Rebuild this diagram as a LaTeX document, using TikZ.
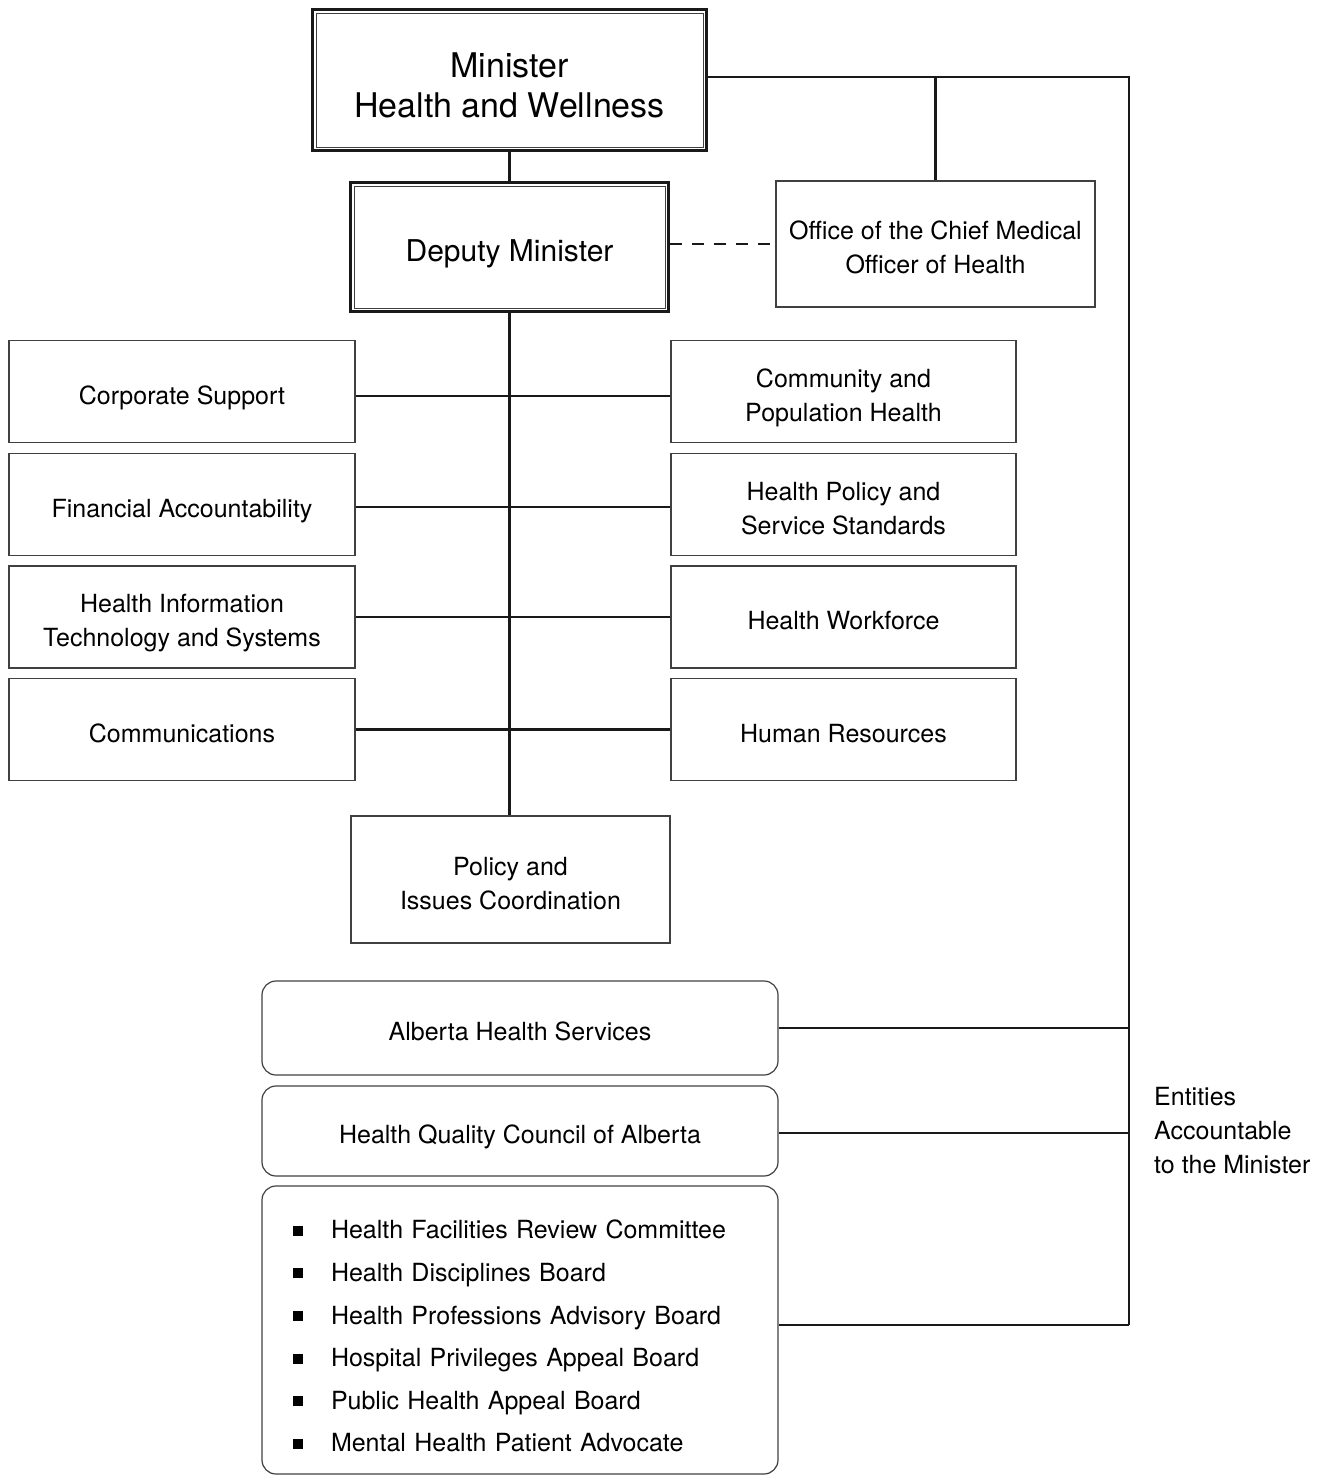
\documentclass[tikz,border=0pt]{standalone}
\usepackage{fontspec}
\setmainfont{TeX Gyre Heros}
\newcommand{\fsbody}{\fontsize{25}{34}\selectfont}
\newcommand{\fsmin}{\fontsize{34}{40}\selectfont}
\newcommand{\fsdep}{\fontsize{30}{36}\selectfont}
\newcommand{\fslist}{\fontsize{25}{42.6}\selectfont}
\newcommand{\sqb}{\makebox[38pt][l]{\raisebox{3pt}{\rule{10pt}{10pt}}}}
\newcommand{\tps}[1]{\rule{0pt}{#1}}
\newcommand{\bts}[1]{\rule[-#1]{0pt}{0pt}}
\begin{document}
\begin{tikzpicture}[x=1pt,y=-1pt,
  box/.style={draw=black!75, line width=1.2pt, inner sep=0pt, align=center, font=\fsbody},
  rbox/.style={box, rounded corners=14pt},
  conn/.style={line width=2.4pt, draw=black!90},
  dashline/.style={conn, dash pattern=on 12pt off 10pt}
]
\useasboundingbox (0,0) rectangle (1331,1476);
% top boxes
\node[draw=black!90, line width=3pt, inner sep=0pt, align=center, font=\fsmin,
      minimum width=394pt, minimum height=141pt] (min) at (509.5,80) {\tps{42.5pt}Minister\\Health and Wellness\bts{8pt}};
\draw[line width=1pt, black!75] ([shift={(5,5)}]min.north west) rectangle ([shift={(-5,-5)}]min.south east);
\node[draw=black!90, line width=3pt, inner sep=0pt, align=center, font=\fsdep,
      minimum width=318pt, minimum height=129pt] (dep) at (509.5,247) {\tps{36.6pt}Deputy Minister\bts{7pt}};
\draw[line width=1pt, black!75] ([shift={(5,5)}]dep.north west) rectangle ([shift={(-5,-5)}]dep.south east);
\node[box, minimum width=319pt, minimum height=126pt] (off) at (935.5,244) {\tps{31pt}Office of the Chief Medical\\Officer of Health\bts{6pt}};
% left column
\node[box, minimum width=346pt, minimum height=102pt] (cs) at (182,391.5) {\tps{31pt}Corporate Support\bts{6pt}};
\node[box, minimum width=346pt, minimum height=102pt] (fa) at (182,504.5) {\tps{31pt}Financial Accountability\bts{6pt}};
\node[box, minimum width=346pt, minimum height=102pt] (hit) at (182,617) {\tps{31pt}Health Information\\Technology and Systems\bts{6pt}};
\node[box, minimum width=346pt, minimum height=102pt] (com) at (182,729.5) {\tps{31pt}Communications\bts{6pt}};
% right column
\node[box, minimum width=345pt, minimum height=102pt] (cph) at (843.5,391.5) {\tps{31pt}Community and\\Population Health\bts{6pt}};
\node[box, minimum width=345pt, minimum height=102pt] (hps) at (843.5,504.5) {\tps{31pt}Health Policy and\\Service Standards\bts{6pt}};
\node[box, minimum width=345pt, minimum height=102pt] (hw) at (843.5,617) {\tps{31pt}Health Workforce\bts{6pt}};
\node[box, minimum width=345pt, minimum height=102pt] (hr) at (843.5,729.5) {\tps{31pt}Human Resources\bts{6pt}};
% policy
\node[box, minimum width=319pt, minimum height=127pt] (pol) at (510.5,879.5) {\tps{31pt}Policy and\\Issues Coordination\bts{6pt}};
% entities
\node[rbox, minimum width=516pt, minimum height=94pt] (ahs) at (520,1028) {\tps{31pt}Alberta Health Services\bts{6pt}};
\node[rbox, minimum width=516pt, minimum height=90pt] (hq) at (520,1131) {\tps{31pt}Health Quality Council of Alberta\bts{6pt}};
\node[rbox, minimum height=288pt, inner xsep=31pt, text width=454pt, align=left, font=\fslist,
      execute at begin node={\rule{0pt}{31pt}}] (lst) at (520,1330)
 {\sqb Health Facilities Review Committee\\
  \sqb Health Disciplines Board\\
  \sqb Health Professions Advisory Board\\
  \sqb Hospital Privileges Appeal Board\\
  \sqb Public Health Appeal Board\\
  \sqb Mental Health Patient Advocate};
\node[anchor=west, inner sep=0pt, align=left, font=\fsbody] (ent) at (1154,1131) {Entities\\Accountable\\to the Minister};
% connectors
\coordinate (rtop) at (1129,77);
\coordinate (rbot) at (1129,1325);
\draw[conn] (min.south) -- (dep.north);
\draw[conn] (min.east |- rtop) -- (rtop) -- (rbot);
\draw[conn] (off.north) -- (off.north |- rtop);
\draw[dashline] (dep.east |- off.west) -- (off.west);
\draw[conn] (dep.south) -- (dep.south |- pol.north);
\draw[conn] ([yshift=-4.5pt]cs.east) -- ([yshift=-4.5pt]cph.west);
\draw[conn] ([yshift=-2.5pt]fa.east) -- ([yshift=-2.5pt]hps.west);
\draw[conn] (hit.east) -- (hw.west);
\draw[conn] (com.east) -- (hr.west);
\draw[conn] (ahs.east) -- (ahs.east -| rtop);
\draw[conn] ([yshift=-2pt]hq.east) -- ([yshift=-2pt]hq.east -| rtop);
\draw[conn] (lst.east |- rbot) -- (rbot);
\end{tikzpicture}
\end{document}
